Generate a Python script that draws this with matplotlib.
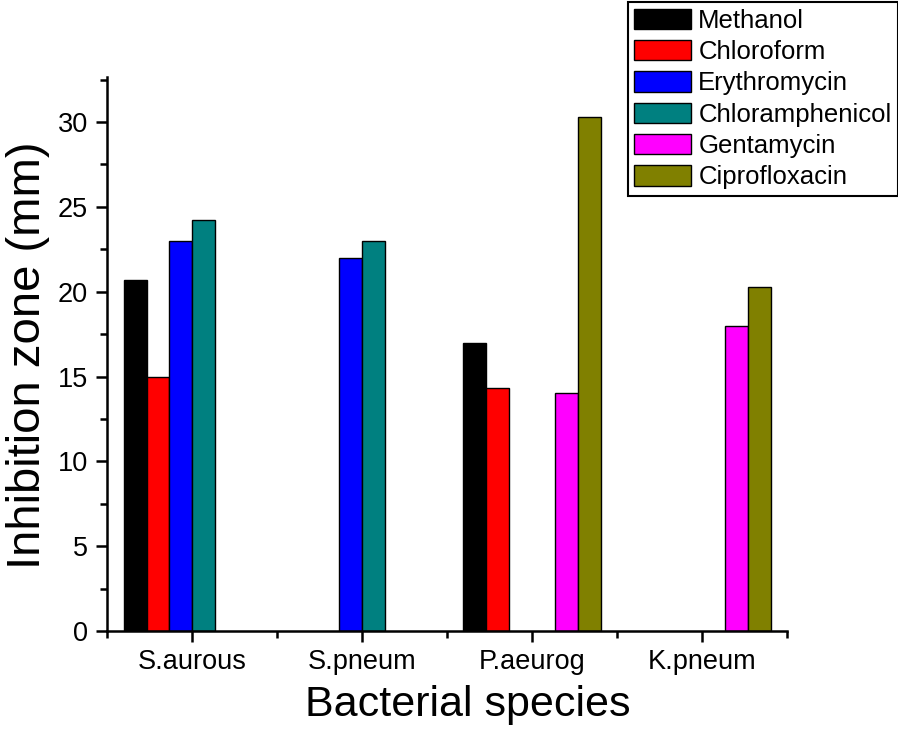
import numpy as np
import matplotlib.pyplot as plt
from matplotlib.ticker import MultipleLocator, FixedLocator

plt.rcParams['font.family'] = ['Liberation Sans', 'DejaVu Sans']

# data (nan = no bar)
species = ["S.aurous", "S.pneum", "P.aeurog", "K.pneum"]
methanol = [20.7, np.nan, 17.0, np.nan]
chloroform = [15.0, np.nan, 14.3, np.nan]
erythromycin = [23.0, 22.0, np.nan, np.nan]
chloramphenicol = [24.2, 23.0, np.nan, np.nan]
gentamycin = [np.nan, np.nan, 14.0, 18.0]
ciprofloxacin = [np.nan, np.nan, 30.3, 20.3]

series = [
    ("Methanol", methanol, "#000000"),
    ("Chloroform", chloroform, "#FF0000"),
    ("Erythromycin", erythromycin, "#0000FF"),
    ("Chloramphenicol", chloramphenicol, "#008080"),
    ("Gentamycin", gentamycin, "#FF00FF"),
    ("Ciprofloxacin", ciprofloxacin, "#808000"),
]

fig = plt.figure(figsize=(8.98, 7.37), dpi=100)
ax = fig.add_axes([0.1197, 0.1438, 0.7567, 0.7517])

x = np.arange(1, len(species) + 1)
width = 0.135
for i, (name, vals, col) in enumerate(series):
    ax.bar(x + (i - 2.5) * width, vals, width, color=col,
           edgecolor="black", linewidth=1, label=name)

ax.set_xlim(0.5, 4.5)
ax.set_ylim(0, 32.65)

ax.set_xticks(x)
ax.set_xticklabels(species)
ax.xaxis.set_minor_locator(FixedLocator([0.5, 1.5, 2.5, 3.5, 4.5]))
ax.yaxis.set_major_locator(MultipleLocator(5))
ax.yaxis.set_minor_locator(MultipleLocator(2.5))

ax.spines["top"].set_visible(False)
ax.spines["right"].set_visible(False)
for s in ["left", "bottom"]:
    ax.spines[s].set_linewidth(1.8)

ax.tick_params(which="major", length=8, width=1.8, labelsize=19.5)
ax.tick_params(axis="y", pad=6)
ax.tick_params(axis="x", pad=5)
ax.tick_params(which="minor", length=5, width=1.8)

ax.set_xlabel("Bacterial species", fontsize=31)
ax.set_ylabel("Inhibition zone (mm)", fontsize=34)
ax.xaxis.set_label_coords(0.53, -0.097)
ax.yaxis.set_label_coords(-0.085, 0.498)

leg = ax.legend(loc="upper right", bbox_to_anchor=(1.0, 0.997),
                bbox_transform=fig.transFigure, fontsize=18.5,
                fancybox=False, framealpha=1, edgecolor="black",
                handlelength=2.2, handleheight=0.85, handletextpad=0.3,
                labelspacing=0.28, borderpad=0.25, borderaxespad=0)
leg.get_frame().set_linewidth(1.5)

fig.savefig("out.png", dpi=100)
